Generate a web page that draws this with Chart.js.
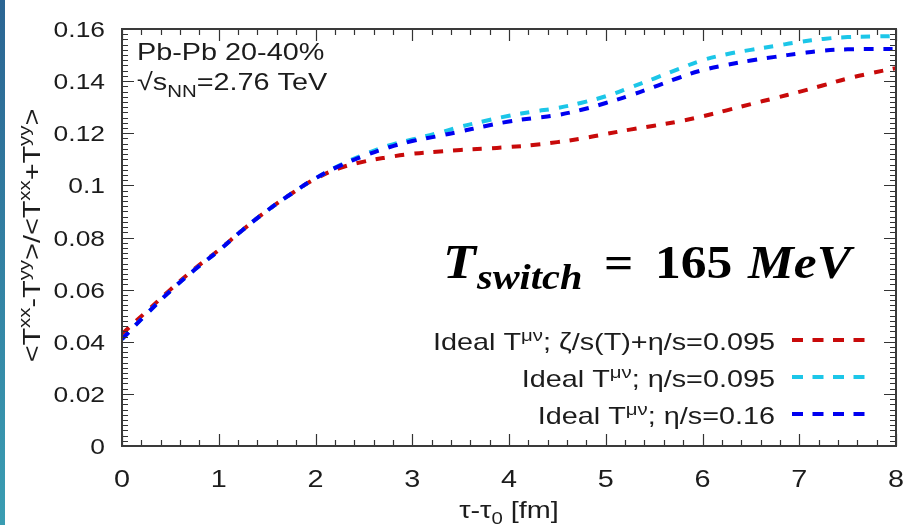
<!DOCTYPE html>
<html>
<head>
<meta charset="utf-8">
<script src="https://cdn.jsdelivr.net/npm/chart.js@4.4.1/dist/chart.umd.min.js"></script>
<style>
  html, body { margin: 0; padding: 0; background: #ffffff; }
  #wrap { position: relative; width: 910px; height: 525px; overflow: hidden; background: #ffffff; }
  #edge { position: absolute; left: 0; top: 0; width: 5px; height: 525px;
          background: linear-gradient(#2b6593, #3a9db2); }
  canvas { position: absolute; left: 0; top: 0; }
</style>
</head>
<body>
<div id="wrap">
  <canvas id="chart" width="910" height="525"></canvas>
  <div id="edge"></div>
</div>
<script>
// proper time after thermalisation, tau - tau0 [fm]
const tau = [0, 0.25, 0.5, 0.75, 1, 1.25, 1.5, 1.75, 2, 2.25, 2.5, 2.75, 3, 3.25, 3.5, 3.75,
             4, 4.25, 4.5, 4.75, 5, 5.25, 5.5, 5.75, 6, 6.25, 6.5, 6.75, 7, 7.25, 7.5, 7.75, 8];

// momentum anisotropy of the ideal part of T^{mu nu}
const bulkEta0095 = [0.0430, 0.0515, 0.0600, 0.0680, 0.0752, 0.0830, 0.0903, 0.0968, 0.1025,
                     0.1066, 0.1091, 0.1108, 0.1121, 0.1129, 0.1136, 0.1141, 0.1147, 0.1155,
                     0.1166, 0.1180, 0.1197, 0.1214, 0.1229, 0.1245, 0.1265, 0.1288, 0.1312,
                     0.1335, 0.1359, 0.1384, 0.1410, 0.1431, 0.1450];
const eta0095 = [0.0410, 0.0505, 0.0595, 0.0676, 0.0750, 0.0830, 0.0903, 0.0968, 0.1027,
                 0.1077, 0.1118, 0.1152, 0.1176, 0.1199, 0.1225, 0.1247, 0.1267, 0.1283,
                 0.1297, 0.1317, 0.1342, 0.1375, 0.1410, 0.1446, 0.1480, 0.1503, 0.1520,
                 0.1535, 0.1550, 0.1562, 0.1569, 0.1571, 0.1573];
const eta016 = [0.0410, 0.0505, 0.0595, 0.0676, 0.0750, 0.0830, 0.0903, 0.0968, 0.1027,
                0.1075, 0.1113, 0.1145, 0.1170, 0.1188, 0.1207, 0.1227, 0.1245, 0.1258,
                0.1270, 0.1290, 0.1316, 0.1345, 0.1378, 0.1412, 0.1442, 0.1462, 0.1479,
                0.1493, 0.1506, 0.1517, 0.1522, 0.1523, 0.1523];

// legend entries: [text before superscript, superscript, text after]
const legendLabels = [
  ['Ideal T', 'μν', '; ζ/s(T)+η/s=0.095'],
  ['Ideal T', 'μν', '; η/s=0.095'],
  ['Ideal T', 'μν', '; η/s=0.16']
];
const seriesColors = ['#c80a0a', '#1cc6e8', '#0000f0'];

const xRange = [0, 8];
const yRange = [0, 0.16];
const xStep = 1, yStep = 0.02;
const xMinorPerMajor = 5, yMinorPerMajor = 10;

const SANS = '"Liberation Sans", Arial, sans-serif';
const SERIF = '"Liberation Serif", "Times New Roman", serif';
const WIDE = 1.2;            // glyphs of this figure's font run wide
const INK = '#1c1c1c';

function toPoints(ys) { return tau.map((t, i) => ({ x: t, y: ys[i] })); }

// draws a run of text pieces (with sub/superscripts) anchored at (x, y)
function richText(ctx, parts, x, y, align, sx) {
  let w = 0;
  for (const p of parts) { ctx.font = p.font; p.w = ctx.measureText(p.t).width; w += p.w; }
  ctx.save();
  ctx.translate(x, y);
  ctx.scale(sx, 1);
  ctx.textAlign = 'left';
  ctx.textBaseline = 'alphabetic';
  let cx = align === 'right' ? -w : (align === 'center' ? -w / 2 : 0);
  for (const p of parts) {
    ctx.font = p.font;
    ctx.fillText(p.t, cx, p.dy || 0);
    cx += p.w;
  }
  ctx.restore();
}

const dash = [9.5, 10];

const framePlugin = {
  id: 'frame',
  afterDatasetsDraw(chart) {
    const { ctx, chartArea: a, scales: { x, y } } = chart;
    ctx.save();
    ctx.strokeStyle = '#333333';
    ctx.lineWidth = 1.2;
    ctx.beginPath();
    // minor + major ticks, pointing inward on all four sides
    const nx = (xRange[1] - xRange[0]) / xStep * xMinorPerMajor;
    for (let i = 0; i <= nx; i++) {
      const v = xRange[0] + i * xStep / xMinorPerMajor;
      const px = Math.round(x.getPixelForValue(v)) + 0.5;
      const len = i % xMinorPerMajor === 0 ? 12 : 6;
      ctx.moveTo(px, a.bottom); ctx.lineTo(px, a.bottom - len);
      ctx.moveTo(px, a.top); ctx.lineTo(px, a.top + len);
    }
    const ny = Math.round((yRange[1] - yRange[0]) / yStep * yMinorPerMajor);
    for (let i = 0; i <= ny; i++) {
      const v = yRange[0] + i * yStep / yMinorPerMajor;
      const py = Math.round(y.getPixelForValue(v)) + 0.5;
      const len = i % yMinorPerMajor === 0 ? 12 : 6;
      ctx.moveTo(a.left, py); ctx.lineTo(a.left + len, py);
      ctx.moveTo(a.right, py); ctx.lineTo(a.right - len, py);
    }
    ctx.stroke();
    ctx.lineWidth = 2;
    ctx.strokeStyle = '#3a3a3a';
    ctx.strokeRect(a.left, a.top, a.right - a.left, a.bottom - a.top);

    // tick labels from the scales' own ticks
    ctx.fillStyle = INK;
    for (const t of y.ticks) {
      const py = y.getPixelForValue(t.value);
      const s = String(parseFloat(t.value.toFixed(4)));
      richText(ctx, [{ t: s, font: '22px ' + SANS }], a.left - 17, py + 8, 'right', WIDE);
    }
    for (const t of x.ticks) {
      const px = x.getPixelForValue(t.value);
      const s = String(parseFloat(t.value.toFixed(4)));
      richText(ctx, [{ t: s, font: '24px ' + SANS }], px, 487, 'center', WIDE);
    }

    // axis titles
    const cx = (a.left + a.right) / 2;
    richText(ctx, [
      { t: 'τ-τ', font: '24px ' + SANS },
      { t: '0', font: '17px ' + SANS, dy: 6 },
      { t: ' [fm]', font: '24px ' + SANS }
    ], cx, 518, 'center', WIDE);

    const sup = (s) => ({ t: s, font: '17px ' + SANS, dy: -10 });
    const txt = (s) => ({ t: s, font: '24px ' + SANS });
    ctx.save();
    ctx.translate(40, (a.top + a.bottom) / 2 - 2);
    ctx.rotate(-Math.PI / 2);
    richText(ctx, [txt('<T'), sup('xx'), txt('-T'), sup('yy'), txt('>/<T'), sup('xx'),
                   txt('+T'), sup('yy'), txt('>')], 0, 0, 'center', WIDE);
    ctx.restore();

    // collision system
    richText(ctx, [{ t: 'Pb-Pb 20-40%', font: '24px ' + SANS }], a.left + 15, 60, 'left', WIDE);
    richText(ctx, [
      { t: '√s', font: '24px ' + SANS },
      { t: 'NN', font: '17px ' + SANS, dy: 7 },
      { t: '=2.76 TeV', font: '24px ' + SANS }
    ], a.left + 15, 90, 'left', WIDE);

    // switching temperature
    ctx.fillStyle = '#000000';
    const SW = 1.12;
    richText(ctx, [{ t: 'T', font: 'italic bold 48px ' + SERIF }], 443, 278, 'left', SW);
    richText(ctx, [{ t: 'switch', font: 'italic bold 36px ' + SERIF }], 477, 289, 'left', SW);
    richText(ctx, [{ t: '=', font: 'bold 46px ' + SERIF }], 604, 278, 'left', SW);
    richText(ctx, [{ t: '165', font: 'bold 46px ' + SERIF }], 655, 278, 'left', SW);
    richText(ctx, [{ t: 'MeV', font: 'italic bold 46px ' + SERIF }], 748, 278, 'left', SW);

    // legend: label right-aligned, dashed sample to its right
    const rowBase = [350, 387, 424];
    legendLabels.forEach((lab, i) => {
      ctx.fillStyle = INK;
      richText(ctx, [txt(lab[0]), { t: lab[1], font: '17px ' + SANS, dy: -9 }, txt(lab[2])],
               775, rowBase[i], 'right', WIDE);
      ctx.save();
      ctx.strokeStyle = seriesColors[i];
      ctx.lineWidth = 4;
      ctx.setLineDash([11, 9.5]);
      ctx.beginPath();
      ctx.moveTo(792, rowBase[i] - 10);
      ctx.lineTo(866, rowBase[i] - 10);
      ctx.stroke();
      ctx.restore();
    });
    ctx.restore();
  }
};

function series(data, color, order) {
  return {
    data: toPoints(data),
    borderColor: color,
    backgroundColor: color,
    borderWidth: 4,
    borderDash: dash,
    pointRadius: 0,
    fill: false,
    tension: 0.45,
    order: order
  };
}

new Chart(document.getElementById('chart'), {
  type: 'line',
  data: {
    datasets: [
      series(bulkEta0095, seriesColors[0], 3),
      series(eta0095, seriesColors[1], 2),
      series(eta016, seriesColors[2], 1)
    ]
  },
  options: {
    responsive: false,
    animation: false,
    devicePixelRatio: 1,
    layout: { padding: { left: 122, right: 14, top: 29, bottom: 79 } },
    plugins: { legend: { display: false }, tooltip: { enabled: false } },
    scales: {
      x: {
        type: 'linear', min: xRange[0], max: xRange[1],
        ticks: { display: false, stepSize: xStep },
        grid: { display: false }, border: { display: false },
        afterFit: (s) => { s.height = 0; }
      },
      y: {
        type: 'linear', min: yRange[0], max: yRange[1],
        ticks: { display: false, stepSize: yStep },
        grid: { display: false }, border: { display: false },
        afterFit: (s) => { s.width = 0; }
      }
    }
  },
  plugins: [framePlugin]
});
</script>
</body>
</html>
